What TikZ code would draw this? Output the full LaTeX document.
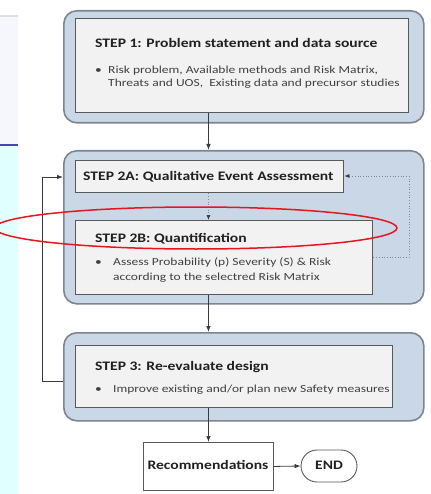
\documentclass[tikz,border=0pt]{standalone}
\usepackage{fontspec}
\setmainfont{Carlito}
\newfontfamily\headfont[FakeStretch=1.2]{Carlito}
\newfontfamily\bodyfont[FakeStretch=1.25]{Carlito}
\usetikzlibrary{arrows.meta,shapes.misc}

\definecolor{outerfill}{HTML}{C9D7E7}
\definecolor{outerline}{HTML}{7D858F}
\definecolor{innerfill}{HTML}{F2F2F2}
\definecolor{innerline}{HTML}{595959}
\definecolor{titletxt}{HTML}{202020}
\definecolor{bullettxt}{HTML}{404040}
\definecolor{linkcol}{HTML}{3A3A3A}
\definecolor{dotcol}{HTML}{8A8A8A}
\definecolor{stripcyan}{HTML}{E0FFFF}
\definecolor{strippale}{HTML}{F5F7FC}
\definecolor{stripblue}{HTML}{4646B4}
\definecolor{markred}{HTML}{E8141E}

\tikzset{
  outerbox/.style={draw=outerline, line width=1.6pt, fill=outerfill,
    rounded corners=13pt, inner sep=0pt, anchor=north west},
  innerbox/.style={draw=innerline, line width=1.4pt, fill=innerfill,
    inner sep=0pt, anchor=north west},
  plainbox/.style={draw=innerline, line width=0.9pt, fill=white,
    inner sep=0pt, anchor=north west},
  endbox/.style={draw=innerline, line width=0.9pt, fill=white,
    rounded rectangle, inner sep=0pt, anchor=center},
  titletext/.style={anchor=base west, inner sep=0pt, text=titletxt,
    font=\headfont\fontsize{13}{15}\selectfont\bfseries},
  bullettext/.style={anchor=base west, inner sep=0pt, text=bullettxt,
    font=\bodyfont\fontsize{10.8}{13}\selectfont},
  link/.style={draw=linkcol, line width=0.8pt,
    -{Latex[length=6pt,width=4.5pt]}},
  dotlink/.style={draw=dotcol, line width=0.7pt, dotted,
    -{Latex[length=5pt,width=4pt,color=linkcol]}},
}

\begin{document}
\begin{tikzpicture}[x=1pt,y=-1pt]
  \useasboundingbox (0,0) rectangle (430,494);

  % narrow slide strip on the left edge
  \fill[white] (0,0) rectangle (18,16);
  \fill[strippale] (0,16) rectangle (18,145);
  \fill[stripcyan] (0,145) rectangle (18,494);
  \draw[gray!25, line width=1.2pt] (0,16) -- (18,16);
  \draw[stripblue, line width=1.8pt] (0,145) -- (18,145);

  % outer stage panels
  \node[outerbox, minimum width=360pt, minimum height=112pt] (o1) at (63,10) {};
  \node[outerbox, minimum width=360pt, minimum height=153pt] (o2) at (63,150) {};
  \node[outerbox, minimum width=360pt, minimum height=88pt] (o3) at (63,332) {};

  % step boxes
  \node[innerbox, minimum width=333pt, minimum height=94pt] (s1) at (75,18) {};
  \node[innerbox, minimum width=268pt, minimum height=32pt] (s2a) at (75,160) {};
  \node[innerbox, minimum width=297pt, minimum height=74pt] (s2b) at (75,220) {};
  \node[innerbox, minimum width=317pt, minimum height=62pt] (s3) at (75,345) {};

  % terminal boxes
  \node[plainbox, minimum width=130pt, minimum height=48pt] (rec) at (143,442) {};
  \node[endbox, minimum width=56pt, minimum height=32pt] (fin) at (329,466) {};

  % step 1
  \node[titletext] (t1) at (95,48) {STEP 1: Problem statement and data source};
  \node[bullettext] (b1) at (95,73.5) {•};
  \node[bullettext] (l1a) at (108,73.5) {Risk problem, Available methods and Risk Matrix,};
  \node[bullettext] (l1b) at (108,87) {Threats and UOS,\ \ Existing data and precursor studies};

  % step 2A / 2B
  \node[titletext] (t2a) at (83,180) {STEP 2A: Qualitative Event Assessment};
  \node[titletext] (t2b) at (95,242) {STEP 2B: Quantification};
  \node[bullettext] (b2) at (95,265) {•};
  \node[bullettext] (l2a) at (113,265) {Assess Probability (p) Severity (S) \& Risk};
  \node[bullettext] (l2b) at (113,280) {according to the selectred Risk Matrix};

  % step 3
  \node[titletext] (t3) at (95,370) {STEP 3: Re-evaluate design};
  \node[bullettext] (b3) at (95,392.5) {•};
  \node[bullettext] (l3) at (113,392.5) {Improve existing and/or plan new Safety measures};

  % terminal labels
  \node[titletext, anchor=base] (trec) at (208,469.5) {Recommendations};
  \node[titletext, anchor=base] (tfin) at (329,469.5) {END};

  % main flow
  \draw[link] (s1.south -| rec.north) -- (o2.north -| rec.north);
  \draw[link] (s2b.south -| rec.north) -- (o3.north -| rec.north);
  \draw[link] (s3.south -| rec.north) -- (rec.north);
  \draw[link] (rec.east) -- (fin.west);

  % refinement loop inside step 2
  \draw[dotlink] (s2a.south -| rec.north) -- (s2b.north -| rec.north);
  \coordinate (lpA) at (409,257);
  \coordinate (lpB) at (409,176);
  \draw[dotlink] (s2b.east |- lpA) -- (lpA) -- (lpB) -- (s2a.east |- lpB);
  \draw[draw=none, -{Latex[length=5pt,width=4pt,color=linkcol]}] (409,216) -- (409,210);

  % re-evaluation loop back to step 2
  \coordinate (rbA) at (42,381);
  \coordinate (rbB) at (42,177);
  \draw[link] (o3.west |- rbA) -- (rbA) -- (rbB) -- (o2.west |- rbB);

  % highlight ring around step 2B
  \draw[markred, line width=1.5pt] (196,228) ellipse [x radius=201, y radius=21];
\end{tikzpicture}
\end{document}
